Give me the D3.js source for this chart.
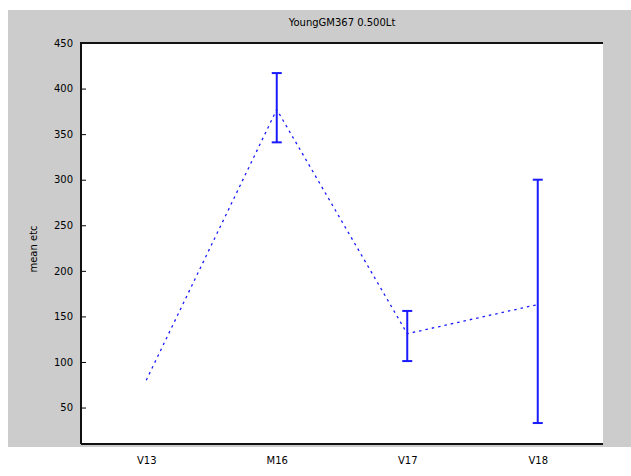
<!DOCTYPE html>
<html>
<head>
<meta charset="utf-8">
<script src="https://cdn.jsdelivr.net/npm/d3@7"></script>
<style>
  html, body { margin: 0; padding: 0; background: #ffffff; }
  svg { display: block; }
  text { font-family: "DejaVu Sans", sans-serif; }
</style>
</head>
<body>
<div id="chart"></div>
<script>
// Group means with their error-bar ranges
const categories = ["V13", "M16", "V17", "V18"];
const means = [80, 377, 131, 163];
const lower = [80, 341, 101, 33];
const upper = [80, 417, 156, 300];
const yTicks = [50, 100, 150, 200, 250, 300, 350, 400, 450];
const titleText = "YoungGM367 0.500Lt";
const yLabel = "mean etc";

const W = 631, H = 476;
const plot = { left: 81, right: 603, top: 43, bottom: 444 };

const svg = d3.select("#chart").append("svg")
  .attr("width", W).attr("height", H);

// figure background
svg.append("rect")
  .attr("x", 8).attr("y", 10)
  .attr("width", W - 8).attr("height", 437)
  .attr("fill", "#cccccc");

// axes area
svg.append("rect")
  .attr("x", plot.left).attr("y", plot.top)
  .attr("width", plot.right - plot.left).attr("height", plot.bottom - plot.top)
  .attr("fill", "#ffffff");

const x = d3.scalePoint()
  .domain(categories)
  .range([plot.left, plot.right])
  .padding(0.5);

const y = d3.scaleLinear()
  .domain([10, 450])
  .range([plot.bottom, plot.top]);

// y axis with inward ticks
const yAxis = svg.append("g")
  .attr("transform", `translate(${plot.left},0)`)
  .call(d3.axisRight(y).tickValues(yTicks).tickSize(5).tickFormat(d3.format("d")));
yAxis.select(".domain").remove();
yAxis.selectAll(".tick line").attr("stroke", "#000").attr("stroke-width", 1);
yAxis.selectAll(".tick text")
  .attr("x", -8)
  .attr("text-anchor", "end")
  .attr("font-size", 10)
  .attr("fill", "#000");

// x axis labels
const xAxis = svg.append("g")
  .attr("transform", `translate(0,${plot.bottom})`)
  .call(d3.axisTop(x).tickSize(0));
xAxis.select(".domain").remove();
xAxis.selectAll(".tick text")
  .attr("y", 20)
  .attr("dy", "0")
  .attr("text-anchor", "middle")
  .attr("font-size", 10)
  .attr("fill", "#000");

// frame: left, top, bottom
svg.append("path")
  .attr("d", `M${plot.left},${plot.bottom}V${plot.top}H${plot.right}`)
  .attr("fill", "none").attr("stroke", "#111").attr("stroke-width", 2);
svg.append("path")
  .attr("d", `M${plot.left},${plot.bottom}H${plot.right}`)
  .attr("fill", "none").attr("stroke", "#111").attr("stroke-width", 2);

const blue = "#1a1aff";

// dotted line through the means
const line = d3.line()
  .x((d, i) => x(categories[i]))
  .y(d => y(d));
svg.append("path")
  .datum(means)
  .attr("d", line)
  .attr("fill", "none")
  .attr("stroke", blue)
  .attr("stroke-width", 1.3)
  .attr("stroke-dasharray", "2.5,4");

// error bars
const bars = svg.append("g");
categories.forEach((c, i) => {
  if (upper[i] === lower[i]) return;
  const cx = x(c);
  bars.append("line")
    .attr("x1", cx).attr("x2", cx)
    .attr("y1", y(lower[i])).attr("y2", y(upper[i]))
    .attr("stroke", blue).attr("stroke-width", 2);
  [lower[i], upper[i]].forEach(v => {
    bars.append("line")
      .attr("x1", cx - 5).attr("x2", cx + 5)
      .attr("y1", y(v)).attr("y2", y(v))
      .attr("stroke", blue).attr("stroke-width", 2);
  });
});

// title
svg.append("text")
  .attr("x", (plot.left + plot.right) / 2)
  .attr("y", 26)
  .attr("text-anchor", "middle")
  .attr("font-size", 10)
  .attr("fill", "#000")
  .text(titleText);

// y axis label
svg.append("text")
  .attr("transform", `translate(37,249) rotate(-90)`)
  .attr("text-anchor", "middle")
  .attr("font-size", 10)
  .attr("fill", "#000")
  .text(yLabel);
</script>
</body>
</html>
